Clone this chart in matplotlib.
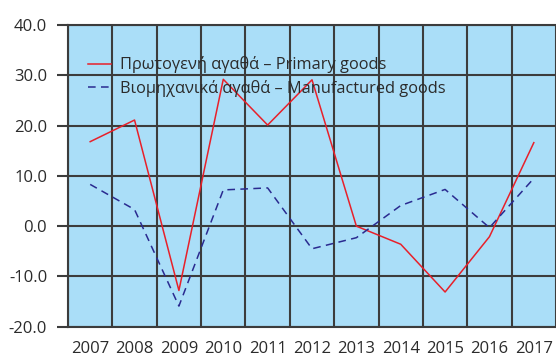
import matplotlib
matplotlib.use("Agg")
import matplotlib.pyplot as plt
import numpy as np

years = [2007, 2008, 2009, 2010, 2011, 2012, 2013, 2014, 2015, 2016, 2017]
primary = [16.8, 21.1, -12.8, 29.2, 20.1, 29.1, 0.0, -3.6, -13.1, -2.1, 16.6]
manufactured = [8.3, 3.3, -15.9, 7.2, 7.6, -4.5, -2.3, 4.1, 7.3, -0.3, 9.5]
primary_label = "Πρωτογενή αγαθά – Primary goods"
manufactured_label = "Βιομηχανικά αγαθά – Manufactured goods"
y_ticks = [-20, -10, 0, 10, 20, 30, 40]

plt.rcParams['font.family'] = ['Open Sans', 'DejaVu Sans']
text_color = '#2b2b2b'
grid_color = '#3c3c3c'

fig = plt.figure(figsize=(5.56, 3.56), dpi=100)
ax = fig.add_axes([68 / 556, 1 - 326.7 / 356, (556 - 68) / 556, (326.7 - 25) / 356])
ax.set_facecolor('#aadef8')

x = np.arange(len(years))
ax.plot(x, primary, color='#e8202a', lw=1.1, label=primary_label, zorder=3)
ax.plot(x, manufactured, color='#2a2a90', lw=1.1, ls=(0, (5, 3.5)),
        label=manufactured_label, zorder=3)

# band width is 44.6 px, the last band runs off the right edge
ax.set_xlim(-0.5, (556 - 68) / 44.6 - 0.5)
ax.set_ylim(-20, 40)

# years sit in the middle of each band, grid lines on the band edges
ax.set_xticks(x)
ax.set_xticklabels([str(y) for y in years], fontsize=12, color=text_color)
ax.set_xticks(np.arange(len(years) + 1) - 0.5, minor=True)
ax.tick_params(axis='x', which='both', length=0, pad=10)
ax.grid(True, axis='x', which='minor', color=grid_color, lw=1.5)

ax.set_yticks(y_ticks)
ax.set_yticklabels([f"{v:.1f}" for v in y_ticks], fontsize=12, color=text_color)
ax.tick_params(axis='y', length=8, width=1.5, color=grid_color, pad=7)
ax.grid(True, axis='y', which='major', color=grid_color, lw=1.5)

for side in ['left', 'top', 'bottom']:
    ax.spines[side].set_color(grid_color)
    ax.spines[side].set_linewidth(1.5)
ax.spines['right'].set_visible(False)
ax.set_axisbelow(True)

leg = ax.legend(loc='upper left', bbox_to_anchor=(0.01, 0.945), frameon=False,
                fontsize=11.8, handlelength=1.4, handletextpad=0.55, labelspacing=0.4)
for t in leg.get_texts():
    t.set_color(text_color)

fig.savefig('out.png', dpi=100)
